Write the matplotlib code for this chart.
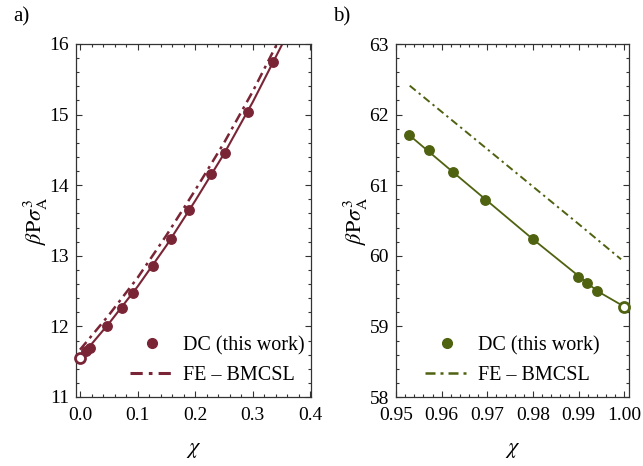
import matplotlib
matplotlib.use("Agg")
import matplotlib.pyplot as plt
from matplotlib.lines import Line2D
from matplotlib.ticker import MultipleLocator

# - Pressure vs composition, two panels - #

plt.rcParams['font.family'] = ['Liberation Serif', 'DejaVu Serif']
plt.rcParams['mathtext.fontset'] = 'stix'

# panel a) data
chi_dc_a = [0.010, 0.017, 0.046, 0.073, 0.092, 0.126, 0.158, 0.190, 0.228, 0.251, 0.291, 0.335]
p_dc_a = [11.65, 11.70, 12.00, 12.265, 12.48, 12.86, 13.243, 13.653, 14.163, 14.456, 15.04, 15.745]
chi_open_a = [0.0]
p_open_a = [11.556]
chi_fit_a = [0.0, 0.05, 0.10, 0.15, 0.20, 0.25, 0.30, 0.35, 0.37]
p_fit_a = [11.556, 12.04, 12.565, 13.145, 13.78, 14.445, 15.18, 15.98, 16.31]
p_fe_a = [11.67, 12.16, 12.69, 13.29, 13.93, 14.60, 15.33, 16.13, 16.47]

# panel b) data
chi_dc_b = [0.9528, 0.9572, 0.9624, 0.9695, 0.9799, 0.9898, 0.9918, 0.9941]
p_dc_b = [61.715, 61.50, 61.19, 60.79, 60.24, 59.70, 59.62, 59.50]
chi_open_b = [1.0]
p_open_b = [59.28]
chi_fit_b = [0.9528, 0.9624, 0.9799, 0.9941, 1.0]
p_fit_b = [61.715, 61.19, 60.24, 59.50, 59.28]
chi_fe_b = [0.953, 0.96, 0.97, 0.98, 0.99, 0.9993]
p_fe_b = [62.41, 62.04, 61.51, 60.98, 60.45, 59.95]

col_a = '#7a2536'
col_b = '#4f6210'
dashdot = (0, (4, 2, 1.2, 2))

fig = plt.figure(figsize=(6.43, 4.66), dpi=100)
ax_a = fig.add_axes([76/643, 69/466, 235/643, 353/466])
ax_b = fig.add_axes([396/643, 69/466, 233.3/643, 353/466])


def style_axis(ax, xmaj, xmin, ymaj, ymin):
    ax.xaxis.set_major_locator(MultipleLocator(xmaj))
    ax.xaxis.set_minor_locator(MultipleLocator(xmin))
    ax.yaxis.set_major_locator(MultipleLocator(ymaj))
    ax.yaxis.set_minor_locator(MultipleLocator(ymin))
    ax.tick_params(which='both', direction='in', top=True, right=True,
                   labelsize=14, width=0.8, color='#333333')
    ax.tick_params(which='major', length=4, pad=5)
    ax.tick_params(axis='x', which='major', pad=7)
    ax.tick_params(which='minor', length=2.2)
    for s in ax.spines.values():
        s.set_linewidth(0.9)
        s.set_color('#333333')
    ax.set_xlabel(r'$\chi$', fontsize=16)
    ax.xaxis.set_label_coords(0.5, -0.125)
    ax.set_ylabel(r'$\beta\mathrm{P}\sigma_{\mathrm{A}}^{3}$', fontsize=16)
    ax.yaxis.set_label_coords(-0.11, 0.5)


def legend(ax, col, lw, x0):
    h = [Line2D([], [], ls='none', marker='o', ms=7, color=col),
         Line2D([], [], ls=dashdot, lw=lw, color=col)]
    ax.legend(h, ['DC (this work)', 'FE \u2013 BMCSL'], loc='lower left',
              frameon=False, fontsize=14.5, handlelength=2.2,
              handletextpad=0.45, labelspacing=0.5, borderpad=0,
              borderaxespad=0, bbox_to_anchor=(x0, 0.035))


# panel a
ax_a.plot(chi_fit_a, p_fit_a, '-', color=col_a, lw=1.5)
ax_a.plot(chi_fit_a, p_fe_a, ls=dashdot, color=col_a, lw=1.8)
ax_a.plot(chi_dc_a, p_dc_a, 'o', color=col_a, ms=6.8, zorder=3)
ax_a.plot(chi_open_a, p_open_a, 'o', mfc='white', mec=col_a, mew=2, ms=7.2, zorder=4,
          clip_on=False)
ax_a.set_xlim(-0.007, 0.401)
ax_a.set_ylim(11, 16)
style_axis(ax_a, 0.1, 0.02, 1, 0.2)
ax_a.xaxis.set_major_formatter(lambda v, p: f'{v:.1f}')
legend(ax_a, col_a, 2.2, 0.23)

# panel b
ax_b.plot(chi_fit_b, p_fit_b, '-', color=col_b, lw=1.3)
ax_b.plot(chi_fe_b, p_fe_b, ls=dashdot, color=col_b, lw=1.4)
ax_b.plot(chi_dc_b, p_dc_b, 'o', color=col_b, ms=6.8, zorder=3)
ax_b.plot(chi_open_b, p_open_b, 'o', mfc='white', mec=col_b, mew=2, ms=7.2, zorder=4,
          clip_on=False)
ax_b.set_xlim(0.95, 1.0011)
ax_b.set_ylim(58, 63)
style_axis(ax_b, 0.01, 0.002, 1, 0.2)
ax_b.xaxis.set_major_formatter(lambda v, p: f'{v:.2f}')
legend(ax_b, col_b, 1.8, 0.124)

fig.text(13/643, 1 - 17/466, 'a)', fontsize=15, va='center', ha='left')
fig.text(333/643, 1 - 17/466, 'b)', fontsize=15, va='center', ha='left')

fig.savefig('out.png', dpi=100)
